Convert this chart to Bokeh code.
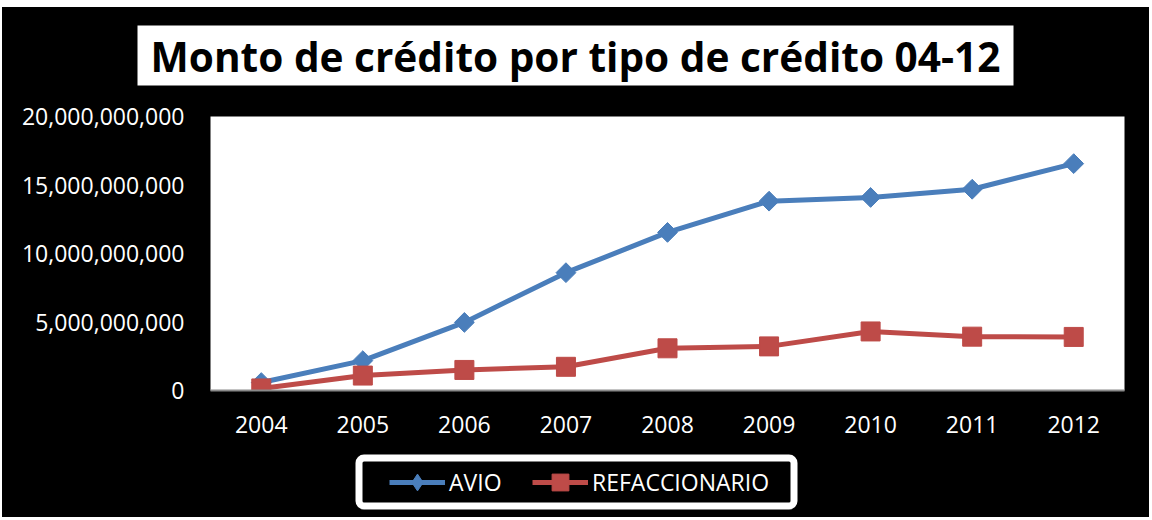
import math
from bokeh.plotting import figure
from bokeh.layouts import column
from bokeh.models import (Range1d, FixedTicker, NumeralTickFormatter, Legend,
                          LegendItem, BoxAnnotation, Label)
from bokeh.embed import file_html
from bokeh.resources import INLINE

# ---- data ----
years = ["2004", "2005", "2006", "2007", "2008", "2009", "2010", "2011", "2012"]
avio = [0.58e9, 2.18e9, 4.97e9, 8.60e9, 11.54e9, 13.82e9, 14.09e9, 14.69e9, 16.56e9]
refaccionario = [0.15e9, 1.09e9, 1.50e9, 1.73e9, 3.08e9, 3.22e9, 4.31e9, 3.93e9, 3.91e9]
y_ticks = [0, 5e9, 10e9, 15e9, 20e9]
series_names = ["AVIO", "REFACCIONARIO"]
title_text = "Monto de crédito por tipo de crédito 04-12"

BLUE = "#4A7EBB"
RED = "#BE4B48"
FONT = "Open Sans"
W = 1147


def blank_fig(h):
    f = figure(width=W, height=h, x_range=Range1d(0, W), y_range=Range1d(0, h),
               output_backend="svg", toolbar_location=None,
               x_axis_type=None, y_axis_type=None,
               min_border=0, min_border_left=0, min_border_right=0,
               min_border_top=0, min_border_bottom=0)
    f.frame_align = False
    f.title.text = ""
    f.border_fill_color = "black"
    f.background_fill_color = "black"
    f.outline_line_color = None
    f.grid.visible = False
    return f


# ---- title panel ----
TH = 83
tf = blank_fig(TH)
tf.add_layout(BoxAnnotation(left=135, right=1011, bottom=5, top=65,
                            fill_color="white", fill_alpha=1.0,
                            line_color=None, line_alpha=0))
tf.add_layout(Label(x=573, y=34, text=title_text, text_align="center",
                    text_baseline="alphabetic", text_font=FONT,
                    text_font_style="bold", text_font_size="40.6px",
                    text_color="black"))

# ---- main chart ----
p = figure(width=W, height=355, x_range=years, y_range=Range1d(0, 20e9),
           output_backend="svg", toolbar_location=None,
           min_border_left=208, min_border_right=25,
           min_border_top=26, min_border_bottom=55)
p.frame_align = False
p.title.text = ""
p.border_fill_color = "black"
p.background_fill_color = "white"
p.outline_line_color = None
p.grid.visible = False

p.yaxis.ticker = FixedTicker(ticks=y_ticks)
p.yaxis.formatter = NumeralTickFormatter(format="0,0")
p.yaxis.axis_line_color = None
p.yaxis.major_tick_line_color = None
p.yaxis.minor_tick_line_color = None
p.yaxis.major_tick_out = 0
p.yaxis.major_label_standoff = 26
p.xaxis.axis_line_color = "#8A8A8A"
p.xaxis.axis_line_width = 2
p.xaxis.major_tick_line_color = None
p.xaxis.minor_tick_line_color = None
p.xaxis.major_tick_out = 0
p.xaxis.major_label_standoff = 25
for ax in (p.xaxis, p.yaxis):
    ax.major_label_text_color = "white"
    ax.major_label_text_font = FONT
    ax.major_label_text_font_size = "23px"

p.line(years, avio, line_color=BLUE, line_width=5)
p.scatter(years, avio, marker="square", angle=math.pi / 4, size=14,
          fill_color=BLUE, line_color=BLUE)
p.line(years, refaccionario, line_color=RED, line_width=5)
p.scatter(years, refaccionario, marker="square", size=19,
          fill_color=RED, line_color=RED)

# ---- legend panel ----
LH = 72
lf = blank_fig(LH)
lf.add_layout(BoxAnnotation(left=356.5, right=791.5, bottom=11.5, top=59.5,
                            fill_color="black", fill_alpha=1.0,
                            line_color="white", line_alpha=1.0,
                            line_width=7, border_radius=5))
nan = float("nan")
ln1 = lf.line([nan], [nan], line_color=BLUE, line_width=5)
mk1 = lf.scatter([nan], [nan], marker="diamond", fill_color=BLUE, line_color=BLUE)
ln2 = lf.line([nan], [nan], line_color=RED, line_width=5)
mk2 = lf.scatter([nan], [nan], marker="square", fill_color=RED, line_color=RED)
legend = Legend(items=[LegendItem(label=series_names[0], renderers=[ln1, mk1]),
                       LegendItem(label=series_names[1], renderers=[ln2, mk2])],
                location=(387, 14.3), orientation="horizontal",
                padding=0, spacing=13, margin=0,
                glyph_width=56, glyph_height=42, label_standoff=4, label_width=70,
                label_text_color="white", label_text_font=FONT,
                label_text_font_size="23px",
                border_line_alpha=0, background_fill_alpha=0)
lf.add_layout(legend, "center")

layout = column(tf, p, lf, spacing=0, margin=(7, 0, 0, 2),
                styles={"background-color": "black"})

open("out.html", "w").write(file_html(layout, INLINE))
